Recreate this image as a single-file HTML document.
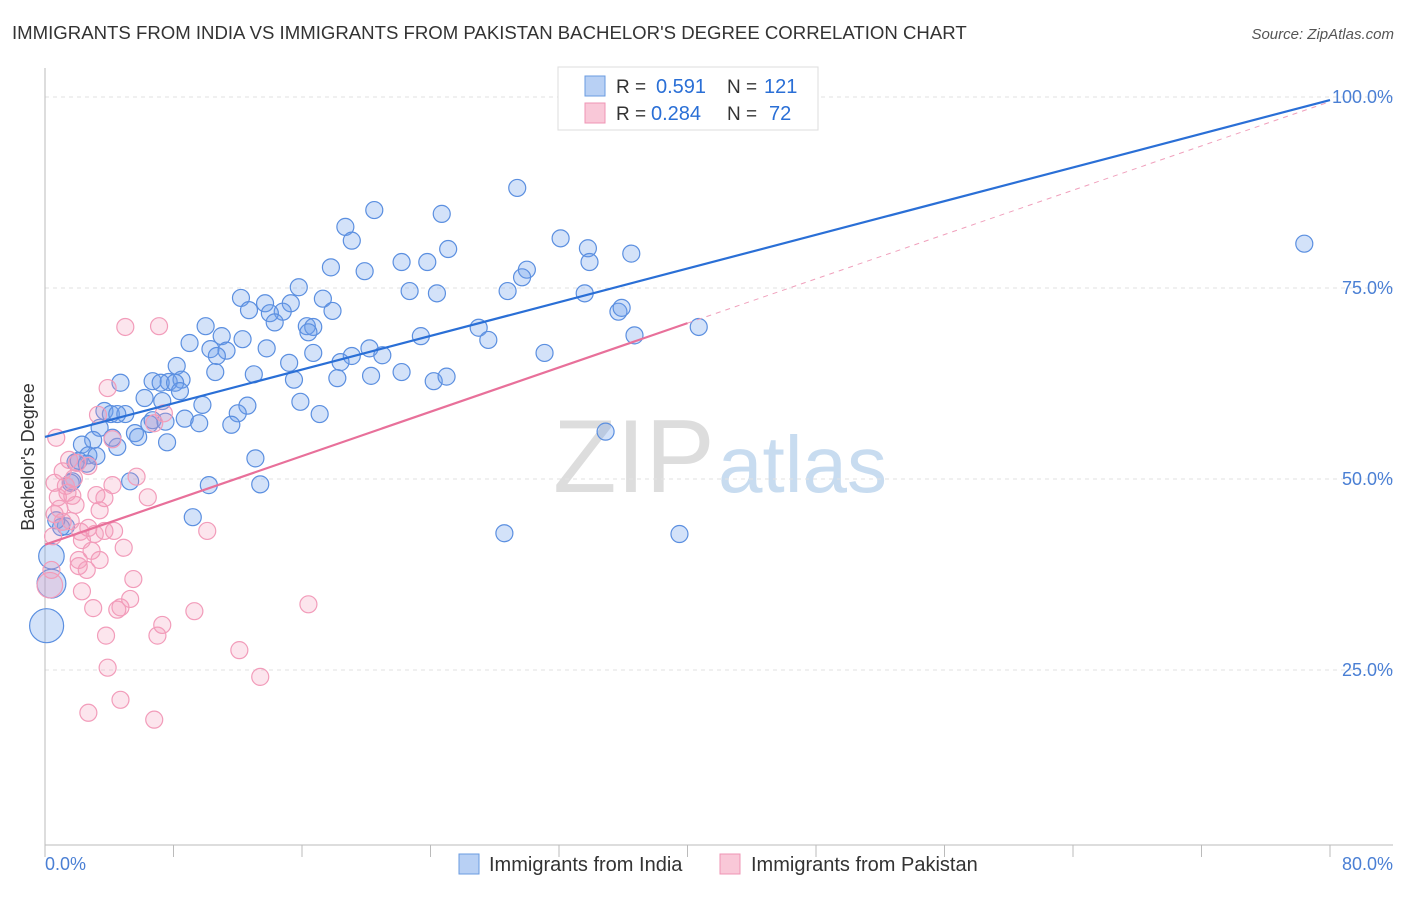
<!DOCTYPE html>
<html><head><meta charset="utf-8"><style>
body{margin:0;background:#fff;font-family:"Liberation Sans",sans-serif}
svg text{font-family:"Liberation Sans",sans-serif}
</style></head><body>
<svg id="chart" width="1406" height="892" viewBox="0 0 1406 892" xmlns="http://www.w3.org/2000/svg">
<text x="12" y="39" font-size="18.6" fill="#333">IMMIGRANTS FROM INDIA VS IMMIGRANTS FROM PAKISTAN BACHELOR'S DEGREE CORRELATION CHART</text>
<text x="1394" y="39" font-size="15" fill="#555" font-style="italic" text-anchor="end">Source: ZipAtlas.com</text>
<g>
<text x="553" y="492" font-size="104" fill="#ddd" font-family="Liberation Serif,serif">ZIP</text>
<text x="718" y="492" font-size="80" fill="#c8dcf0">atlas</text>
</g>
<g id="grid"></g>
<g id="axes"></g>
<g id="marks"></g>
<text transform="translate(34,457) rotate(-90)" font-size="18" fill="#333" text-anchor="middle">Bachelor's Degree</text>
<g>
<rect x="558" y="67" width="260" height="63" fill="#fff" stroke="#ddd"/>
<rect x="585" y="76" width="20" height="20" fill="#b8d0f4" stroke="#6a9be0"/>
<rect x="585" y="103" width="20" height="20" fill="#f9c8d8" stroke="#ef94b4"/>
<text x="616" y="93" font-size="19" fill="#333">R = <tspan x="656" fill="#2a6fd6" font-size="20">0.591</tspan><tspan x="727">N = </tspan><tspan x="764" fill="#2a6fd6" font-size="20">121</tspan></text>
<text x="616" y="120" font-size="19" fill="#333">R = <tspan x="651" fill="#2a6fd6" font-size="20">0.284</tspan><tspan x="727">N = </tspan><tspan x="769" fill="#2a6fd6" font-size="20">72</tspan></text>
</g>
<g>
<rect x="459" y="854" width="20" height="20" fill="#b8d0f4" stroke="#6a9be0"/>
<text x="489" y="871" font-size="20" fill="#333">Immigrants from India</text>
<rect x="720" y="854" width="20" height="20" fill="#f9c8d8" stroke="#ef94b4"/>
<text x="751" y="871" font-size="20" fill="#333">Immigrants from Pakistan</text>
</g>
</svg>
<script>
const yTicks=[25,50,75,100];
const xTickLabels=["0.0%","80.0%"];
const indiaX=[78.4,29.4,20.5,24.7,18.7,19.1,32.1,33.8,25.1,36.5,33.9,22.2,23.8,17.8,19.9,30.0,29.7,15.8,22.7,24.4,28.8,33.6,12.2,17.3,13.7,15.3,12.7,14.8,17.9,14.0,14.3,35.7,35.9,10.0,16.3,16.7,27.0,11.0,12.3,16.4,23.4,27.6,36.7,9.0,10.3,11.3,13.8,20.2,16.7,31.1,10.7,19.1,21.0,15.2,8.2,18.4,10.6,13.0,22.2,20.3,18.2,15.5,24.2,25.0,4.7,6.7,7.7,8.5,7.2,8.1,8.4,7.3,6.2,15.9,9.8,12.6,12.0,17.1,3.7,4.1,5.0,4.5,8.7,9.6,11.6,6.5,6.7,7.5,3.4,3.0,5.6,5.8,2.3,7.6,4.5,2.7,3.2,1.9,2.1,2.6,13.1,34.9,1.7,1.6,10.2,13.4,5.3,9.2,28.6,39.5,1.3,1.0,0.4,0.4,0.1,40.7,4.2,0.7];
const indiaY=[80.8,88.1,85.2,84.7,83.0,81.2,81.5,80.2,80.1,79.5,78.4,78.4,78.4,77.7,77.2,77.4,76.4,75.1,74.6,74.3,74.6,74.3,73.7,73.6,73.0,73.0,72.1,71.9,72.0,71.7,70.5,71.9,72.4,70.0,70.0,69.9,69.8,68.7,68.3,69.2,68.7,68.2,68.8,67.8,67.0,66.8,67.1,67.1,66.5,66.5,66.1,66.1,66.2,65.2,64.8,65.3,64.0,63.7,64.0,63.5,63.2,63.0,62.8,63.4,62.6,62.8,62.7,63.0,62.6,62.6,61.5,60.2,60.6,60.1,59.7,59.6,58.6,58.5,58.9,58.5,58.5,58.5,57.9,57.3,57.1,57.2,57.7,57.5,56.7,55.1,56.0,55.5,54.5,54.8,54.2,53.1,53.0,52.2,52.4,52.0,52.7,56.2,49.7,49.5,49.2,49.3,49.7,45.0,42.9,42.8,43.8,43.7,39.9,36.3,30.8,69.9,55.4,44.6];
const indiaSize=[1,1,1,1,1,1,1,1,1,1,1,1,1,1,1,1,1,1,1,1,1,1,1,1,1,1,1,1,1,1,1,1,1,1,1,1,1,1,1,1,1,1,1,1,1,1,1,1,1,1,1,1,1,1,1,1,1,1,1,1,1,1,1,1,1,1,1,1,1,1,1,1,1,1,1,1,1,1,1,1,1,1,1,1,1,1,1,1,1,1,1,1,1,1,1,1,1,1,1,1,1,1,1,1,1,1,1,1,1,1,1,1,1.5,1.7,2,1,1,1];
const pakX=[0.7,5.0,7.1,3.9,6.8,3.3,4.2,7.4,1.5,1.1,2.0,2.7,0.6,1.8,0.8,1.4,1.7,0.9,3.2,3.7,0.6,1.1,2.7,0.5,2.3,5.7,6.4,4.2,2.2,3.7,4.3,3.1,2.9,4.9,3.4,2.1,2.1,2.6,5.5,2.3,0.3,3.0,4.5,5.3,4.7,7.3,9.3,10.1,16.4,3.8,7.0,12.1,3.9,13.4,2.7,4.7,6.8,0.4,1.6,1.9,1.3,3.4];
const pakY=[55.4,69.9,70.0,61.9,57.3,58.4,55.2,58.6,52.5,51.0,52.1,51.7,49.5,50.1,47.6,48.2,47.8,46.1,47.9,47.5,45.4,44.4,43.6,42.5,42.0,50.3,47.6,49.2,43.1,43.2,43.2,42.8,40.6,41.0,39.4,39.4,38.6,38.1,36.9,35.3,36.1,33.1,32.9,34.3,33.2,30.9,32.7,43.2,33.6,29.5,29.5,27.6,25.3,24.1,19.4,21.1,18.5,38.1,44.5,46.6,49.1,45.9];
const pakSize=[1,1,1,1,1,1,1,1,1,1,1,1,1,1,1,1,1,1,1,1,1,1,1,1,1,1,1,1,1,1,1,1,1,1,1,1,1,1,1,1,1.5,1,1,1,1,1,1,1,1,1,1,1,1,1,1,1,1,1,1,1,1,1];
const indiaLine=[55.5,99.6];
const pakLine=[41.4,70.4,99.4];

const NS="http://www.w3.org/2000/svg";
const sx=v=>45+v*(1285/80);
const sy=v=>861-v*7.64;
function mk(tag,attrs,parent){const e=document.createElementNS(NS,tag);for(const k in attrs)e.setAttribute(k,attrs[k]);parent.appendChild(e);return e;}
const grid=document.getElementById('grid'),axes=document.getElementById('axes'),marks=document.getElementById('marks');
yTicks.forEach(t=>{
  const l=mk('line',{x1:45,x2:1393,y1:sy(t),y2:sy(t),stroke:'#e2e2e2','stroke-dasharray':'4,4'},grid);
  
  
  const tx=mk('text',{x:1393,y:sy(t)+6,'font-size':18,fill:'#4a7fd4','text-anchor':'end'},axes);
  tx.textContent=t.toFixed(1)+'%';
  
  
});
mk('line',{x1:45,x2:45,y1:68,y2:845,stroke:'#bbb'},axes);
mk('line',{x1:45,x2:1393,y1:845,y2:845,stroke:'#bbb'},axes);
for(let i=0;i<=10;i++){mk('line',{x1:sx(i*8),x2:sx(i*8),y1:845,y2:857,stroke:'#bbb'},axes);}
const xl0=mk('text',{x:45,y:870,'font-size':18,fill:'#4a7fd4'},axes);xl0.textContent=xTickLabels[0];


const xl1=mk('text',{x:1393,y:870,'font-size':18,fill:'#4a7fd4','text-anchor':'end'},axes);xl1.textContent=xTickLabels[1];


indiaX.forEach((x,i)=>{
  const c=mk('circle',{cx:sx(x),cy:sy(indiaY[i]),r:8.5*indiaSize[i],fill:'rgba(110,160,235,0.3)',stroke:'#5b8fe0','stroke-width':1.2},marks);
  
  
});
pakX.forEach((x,i)=>{
  const c=mk('circle',{cx:sx(x),cy:sy(pakY[i]),r:8.5*pakSize[i],fill:'rgba(245,150,185,0.25)',stroke:'#f29cba','stroke-width':1.2},marks);
  
  
});
const pd=mk('line',{x1:sx(40),y1:sy(pakLine[1]),x2:sx(80),y2:sy(pakLine[2]),stroke:'#f0a0bc','stroke-width':1,'stroke-dasharray':'5,5'},marks);


const pl=mk('line',{x1:sx(0),y1:sy(pakLine[0]),x2:sx(40),y2:sy(pakLine[1]),stroke:'#e8709a','stroke-width':2.2},marks);


const il=mk('line',{x1:sx(0),y1:sy(indiaLine[0]),x2:sx(80),y2:sy(indiaLine[1]),stroke:'#2a6fd6','stroke-width':2.2},marks);


</script>
</body></html>
